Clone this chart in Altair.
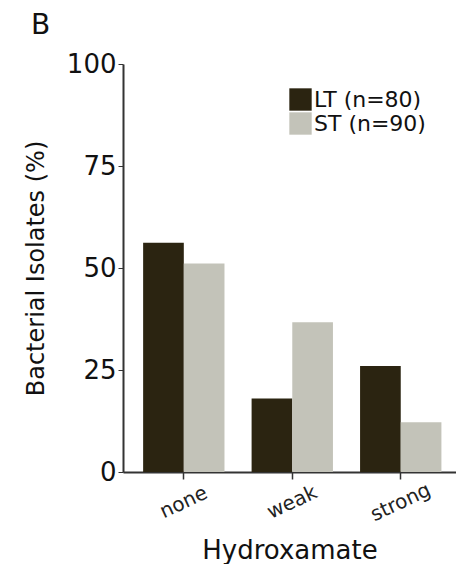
import altair as alt
import pandas as pd

categories = ["none", "weak", "strong"]
groups = ["LT (n=80)", "ST (n=90)"]
lt_values = [56.2, 18.0, 26.0]
st_values = [51.1, 36.7, 12.2]
colors = ["#2b2411", "#c3c3b9"]

rows = []
for c, v in zip(categories, lt_values):
    rows.append({"cat": c, "grp": groups[0], "val": v})
for c, v in zip(categories, st_values):
    rows.append({"cat": c, "grp": groups[1], "val": v})
df = pd.DataFrame(rows)

FONT = "DejaVu Sans"

chart = alt.Chart(df).mark_bar().encode(
    x=alt.X("cat:N", sort=categories, title="Hydroxamate",
            scale=alt.Scale(paddingInner=0.25, paddingOuter=0.16, align=0.58),
            axis=alt.Axis(labelAngle=-25, labelAlign="center", labelBaseline="middle",
                          labelFontSize=20, labelPadding=23, tickSize=7, tickWidth=1.5,
                          titleFontSize=26, titleFontWeight="normal", titlePadding=13,
                          domainWidth=2, domainColor="#333333", tickColor="#333333",
                          labelColor="#222222", titleColor="#111111")),
    xOffset=alt.XOffset("grp:N", sort=groups),
    y=alt.Y("val:Q", title="Bacterial Isolates (%)",
            scale=alt.Scale(domain=[0, 100]),
            axis=alt.Axis(values=[0, 25, 50, 75, 100], grid=False, tickSize=5,
                          labelFontSize=26, labelPadding=2, titleFontSize=24,
                          titleFontWeight="normal", titlePadding=18,
                          domainWidth=2, domainColor="#333333", tickColor="#333333",
                          labelColor="#111111", titleColor="#111111")),
    color=alt.Color("grp:N", sort=groups,
                    scale=alt.Scale(domain=groups, range=colors),
                    legend=alt.Legend(title=None, orient="none", legendX=166, legendY=24,
                                      symbolType="square", symbolSize=500,
                                      symbolStrokeWidth=0, labelFontSize=22,
                                      labelOffset=2, rowPadding=1, padding=0,
                                      labelColor="#111111")),
).properties(
    width=333,
    height=408,
    padding={"left": 115, "top": 56, "right": 0, "bottom": 92},
    autosize=alt.AutoSizeParams(type="none"),
    title=alt.TitleParams("B", anchor="start", frame="group", fontSize=28,
                          fontWeight="normal", font=FONT, dx=-92, offset=11,
                          color="#111111"),
).configure(font=FONT).configure_view(stroke=None)

chart.save("out.html", embed_options={"renderer": "svg", "actions": False})
